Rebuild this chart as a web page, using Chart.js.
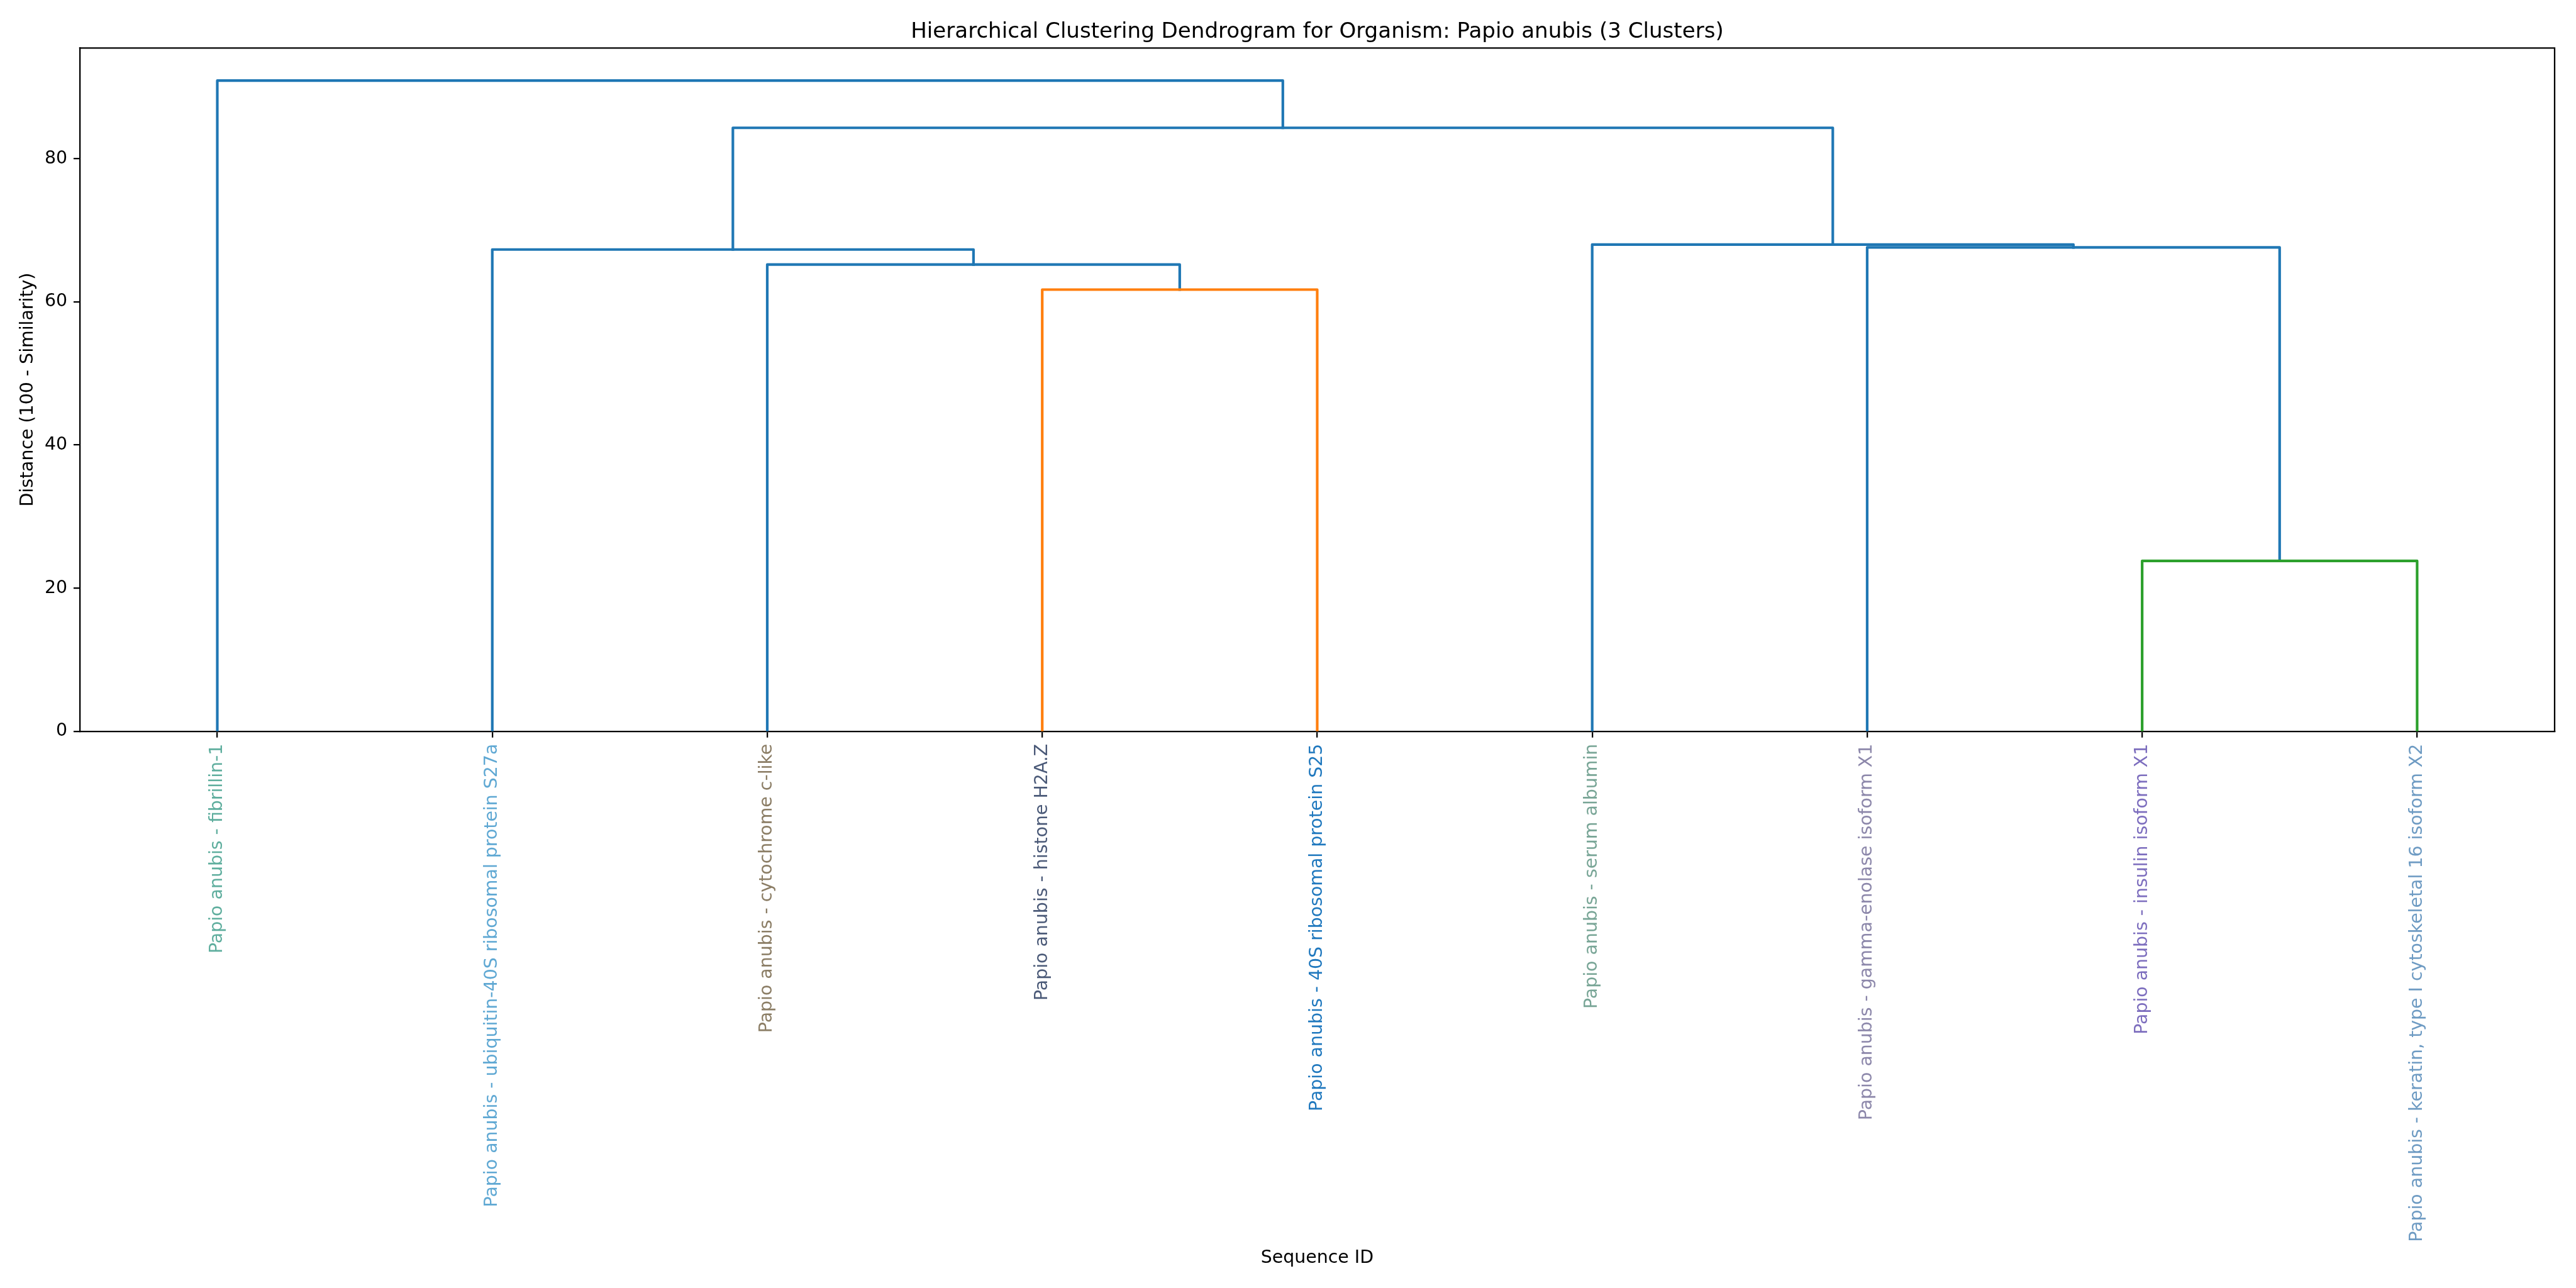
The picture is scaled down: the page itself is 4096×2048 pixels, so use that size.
<!DOCTYPE html>
<html>
<head>
<meta charset="utf-8">
<script src="https://cdn.jsdelivr.net/npm/chart.js@4.4.1/dist/chart.umd.min.js"></script>
<style>
  html, body { margin: 0; padding: 0; background: #ffffff; }
  #wrap { width: 4096px; height: 2048px; }
</style>
</head>
<body>
<div id="wrap"><canvas id="c" width="4096" height="2048"></canvas></div>
<script>
// ---- data ----
const leafLabels = [
  "Papio anubis - fibrillin-1",
  "Papio anubis - ubiquitin-40S ribosomal protein S27a",
  "Papio anubis - cytochrome c-like",
  "Papio anubis - histone H2A.Z",
  "Papio anubis - 40S ribosomal protein S25",
  "Papio anubis - serum albumin",
  "Papio anubis - gamma-enolase isoform X1",
  "Papio anubis - insulin isoform X1",
  "Papio anubis - keratin, type I cytoskeletal 16 isoform X2"
];
const leafColors = [
  "#5fae9e", "#5fa8d3", "#8b7d65", "#4b5a78", "#1f78be",
  "#78a596", "#8c87aa", "#7d6ebe", "#6e9bc3"
];
// linkage: node ids 0..8 are leaves (in display order), 9.. are merges in this order
const mergeLeft   = [7, 3, 2, 1, 6, 5, 12, 0];
const mergeRight  = [8, 4, 10, 11, 9, 13, 14, 15];
const mergeHeight = [23.8, 61.7, 65.2, 67.3, 67.6, 68.0, 84.3, 90.9];
const mergeColor  = ["#2ca02c", "#ff7f0e", "#1f77b4", "#1f77b4", "#1f77b4", "#1f77b4", "#1f77b4", "#1f77b4"];
const yTickStep = 20;

// ---- build dendrogram link datasets (scipy-style leaf positions 5, 15, 25, ...) ----
const nLeaves = leafLabels.length;
const nodeX = leafLabels.map((_, i) => i * 10 + 5);
const nodeH = leafLabels.map(() => 0);
const datasets = [];
mergeLeft.forEach((l, k) => {
  const r = mergeRight[k];
  const h = mergeHeight[k];
  datasets.push({
    data: [
      { x: nodeX[l], y: nodeH[l] },
      { x: nodeX[l], y: h },
      { x: nodeX[r], y: h },
      { x: nodeX[r], y: nodeH[r] }
    ],
    borderColor: mergeColor[k],
    backgroundColor: mergeColor[k],
    borderWidth: 4.2,
    borderJoinStyle: 'round',
    borderCapStyle: 'square',
    pointRadius: 0,
    showLine: true,
    tension: 0,
    fill: false,
    clip: 0
  });
  nodeX.push((nodeX[l] + nodeX[r]) / 2);
  nodeH.push(h);
});
const leafPositions = leafLabels.map((_, i) => i * 10 + 5);
const yMax = Math.max(...mergeHeight) * 1.05;

// ---- layout constants (target pixels) ----
const AX_LEFT = 126.9, AX_RIGHT = 4062, AX_TOP = 76.4, AX_BOTTOM = 1162.8;
const W = 4096, H = 2048;
const SPINE = 2.27;

Chart.defaults.font.family = "'DejaVu Sans', 'Liberation Sans', sans-serif";
Chart.defaults.color = '#000000';

const framePlugin = {
  id: 'frame',
  afterDraw(chart) {
    const { ctx, chartArea: a } = chart;
    ctx.save();
    ctx.strokeStyle = '#000000';
    ctx.lineWidth = SPINE;
    ctx.lineCap = 'square';
    ctx.beginPath();
    ctx.moveTo(a.left, a.top);
    ctx.lineTo(a.right, a.top);
    ctx.lineTo(a.right, a.bottom);
    ctx.stroke();
    ctx.restore();
  }
};

new Chart(document.getElementById('c'), {
  type: 'scatter',
  data: { datasets },
  plugins: [framePlugin],
  options: {
    responsive: false,
    devicePixelRatio: 1,
    animation: false,
    events: [],
    layout: { padding: { left: 0, right: W - AX_RIGHT, top: 0, bottom: 0 } },
    plugins: {
      legend: { display: false },
      tooltip: { enabled: false },
      title: {
        display: true,
        text: 'Hierarchical Clustering Dendrogram for Organism: Papio anubis (3 Clusters)',
        fullSize: false,
        color: '#000000',
        font: { size: 34.1, weight: 'normal' },
        padding: { top: 30.3, bottom: AX_TOP - 30.3 - 34.1 * 1.2 }
      }
    },
    scales: {
      x: {
        type: 'linear',
        position: 'bottom',
        min: 0,
        max: nLeaves * 10,
        z: 1,
        afterBuildTicks: (scale) => { scale.ticks = leafPositions.map(v => ({ value: v })); },
        afterFit: (scale) => { scale.height = H - AX_BOTTOM; },
        ticks: {
          autoSkip: false,
          minRotation: 90,
          maxRotation: 90,
          padding: 9.94,
          font: { size: 28.4 },
          color: (ctx) => leafColors[ctx.index] || '#000',
          callback: (value, index) => leafLabels[index]
        },
        grid: {
          display: true,
          drawOnChartArea: false,
          drawTicks: true,
          tickLength: 9.94,
          tickWidth: SPINE,
          tickColor: '#000000',
          color: '#000000',
          lineWidth: SPINE
        },
        border: { display: true, color: '#000000', width: SPINE },
        title: {
          display: true,
          text: 'Sequence ID',
          color: '#000000',
          font: { size: 28.4 },
          padding: { top: 0, bottom: 30 }
        }
      },
      y: {
        type: 'linear',
        position: 'left',
        min: 0,
        max: yMax,
        z: 1,
        afterFit: (scale) => { scale.width = AX_LEFT; },
        ticks: {
          stepSize: yTickStep,
          includeBounds: false,
          padding: 9.94,
          font: { size: 28.4 },
          color: '#000000'
        },
        grid: {
          display: true,
          drawOnChartArea: false,
          drawTicks: true,
          tickLength: 9.94,
          tickWidth: SPINE,
          tickColor: '#000000',
          color: '#000000',
          lineWidth: SPINE
        },
        border: { display: true, color: '#000000', width: SPINE },
        title: {
          display: true,
          text: 'Distance (100 - Similarity)',
          color: '#000000',
          font: { size: 28.4 },
          padding: { top: 27.3, bottom: 0 }
        }
      }
    }
  }
});
</script>
</body>
</html>
